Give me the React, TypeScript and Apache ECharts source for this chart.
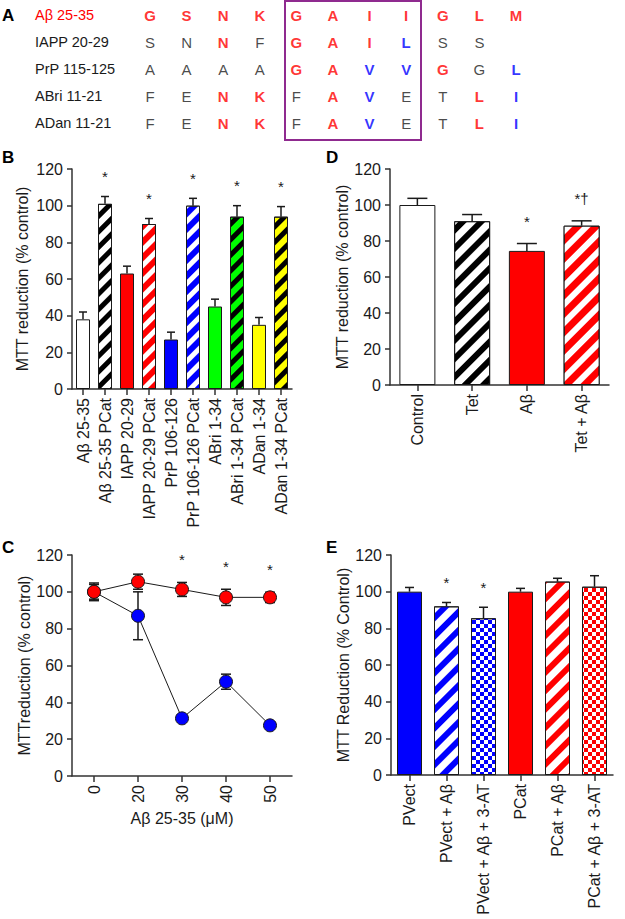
import React, { useEffect, useRef } from 'react';
import * as echarts from 'echarts';

const FONT = '"Liberation Sans", Arial, Helvetica, sans-serif';
const INK = '#1a1a1a';
const AXIS = '#333333';
const RED = '#ff0000';
const BLUE = '#0000ff';
const GREEN = '#00ff00';
const YELLOW = '#ffff00';
const WHITE = '#ffffff';
const BLACK = '#000000';
const PURPLE = '#8f2a8f';

// ---------- Panel A: sequence alignment ----------
const seqNames = ['Aβ 25-35', 'IAPP 20-29', 'PrP 115-125', 'ABri 11-21', 'ADan 11-21'];
const seqColumns = ['1', '2', '3', '4', '5', '6', '7', '8', '9', '10', '11'];
const seqRows = ['GSNKGAIIGLM', 'SNNFGAILSS', 'AAAAGAVVGGL', 'FENKFAVETLI', 'FENKFAVETLI'];
// r = red bold, b = blue bold, k = plain black
const seqCodes = ['rrrrrrrrrrr', 'kkrkrrrbkk', 'kkkkrrbbrkb', 'kkrrkrbkkrb', 'kkrrkrbkkrb'];

// ---------- Panel B ----------
const bCats = [
  'Aβ 25-35', 'Aβ 25-35 PCat', 'IAPP 20-29', 'IAPP 20-29 PCat', 'PrP 106-126',
  'PrP 106-126 PCat', 'ABri 1-34', 'ABri 1-34 PCat', 'ADan 1-34', 'ADan 1-34 PCat',
];
const bMeans = [38, 101, 63, 90, 27, 100, 45, 94, 35, 94];
const bErr = [4, 4, 4, 3, 4, 4, 4, 6, 4, 5.5];
const bSig = ['', '*', '', '*', '', '*', '', '*', '', '*'];
const bFill = [WHITE, WHITE, RED, RED, BLUE, BLUE, GREEN, GREEN, YELLOW, YELLOW];
const bHatch = ['', 'stripe', '', 'stripe', '', 'stripe', '', 'stripe', '', 'stripe'];
const bHatchColor = ['', BLACK, '', WHITE, '', WHITE, '', BLACK, '', BLACK];

// ---------- Panel D ----------
const dCats = ['Control', 'Tet', 'Aβ', 'Tet + Aβ'];
const dMeans = [100, 91, 74.5, 88.5];
const dErr = [3.7, 3.7, 4.1, 2.7];
const dSig = ['', '', '*', '*†'];
const dFill = [WHITE, WHITE, RED, RED];
const dHatch = ['', 'stripe', '', 'stripe'];
const dHatchColor = ['', BLACK, '', WHITE];

// ---------- Panel C ----------
const cDoses = ['0', '20', '30', '40', '50'];
const cRed = [100, 105.5, 101.3, 97, 97];
const cRedErr = [4.8, 4.1, 3.8, 4.4, 2.8];
const cBlue = [100, 87, 31.3, 51.2, 27.5];
const cBlueErr = [4, 13, 1.8, 4.1, 1.8];
const cSig = ['', '', '*', '*', '*'];

// ---------- Panel E ----------
const eCats = ['PVect', 'PVect + Aβ', 'PVect + Aβ + 3-AT', 'PCat', 'PCat + Aβ', 'PCat + Aβ + 3-AT'];
const eMeans = [100, 92, 85.5, 100, 105.5, 102.7];
const eErr = [2.3, 2.1, 6, 1.8, 1.8, 6];
const eSig = ['', '*', '*', '', '', ''];
const eFill = [BLUE, WHITE, WHITE, RED, WHITE, WHITE];
const eHatch = ['', 'stripe', 'checker', '', 'stripe', 'checker'];
const eHatchColor = ['', BLUE, BLUE, '', RED, RED];

const yTicks = { min: 0, max: 120, interval: 20 };

function makeDecal(kind: string, color: string, on: number, off: number, sq: number) {
  if (kind === 'stripe') {
    return {
      symbol: 'rect', symbolSize: 1, symbolKeepAspect: false, color,
      dashArrayX: [20, 0], dashArrayY: [on, off], rotation: -Math.PI / 4,
    };
  }
  if (kind === 'checker') {
    return {
      symbol: 'rect', symbolSize: 1, symbolKeepAspect: false, color,
      dashArrayX: [[sq, sq], [0, sq, sq, 0]], dashArrayY: [sq, 0], rotation: 0,
    };
  }
  return undefined;
}

function barSeries(idx: number, means: number[], fills: string[], hatch: string[], hatchColor: string[], barWidth: number, on: number, off: number, sq: number) {
  return {
    type: 'bar', xAxisIndex: idx, yAxisIndex: idx, barWidth, z: 2, silent: true,
    data: means.map((v, i) => {
      const decal = makeDecal(hatch[i], hatchColor[i], on, off, sq);
      const itemStyle: any = { color: fills[i], borderColor: INK, borderWidth: 1 };
      if (decal) itemStyle.decal = decal;
      return { value: v, itemStyle };
    }),
  };
}

function errSeries(idx: number, means: number[], errs: number[], sigs: string[], capHalf: number, both: boolean, sigOffset: number, z: number) {
  return {
    type: 'custom', xAxisIndex: idx, yAxisIndex: idx, z, silent: true,
    encode: { x: 0, y: 1 },
    data: means.map((m, i) => [i, m, errs[i]]),
    renderItem: (params: any, api: any) => {
      const i = api.value(0);
      const m = api.value(1);
      const e = api.value(2);
      const c = api.coord([i, m]);
      const t = api.coord([i, m + e]);
      const b = api.coord([i, both ? m - e : m]);
      const st = { stroke: INK, lineWidth: 1.5 };
      const children: any[] = [
        { type: 'line', shape: { x1: c[0], y1: b[1], x2: c[0], y2: t[1] }, style: st },
        { type: 'line', shape: { x1: c[0] - capHalf, y1: t[1], x2: c[0] + capHalf, y2: t[1] }, style: st },
      ];
      if (both) {
        children.push({ type: 'line', shape: { x1: c[0] - capHalf, y1: b[1], x2: c[0] + capHalf, y2: b[1] }, style: st });
      }
      const s = sigs[params.dataIndex];
      if (s) {
        children.push({
          type: 'text', x: c[0], y: t[1] - sigOffset,
          style: { text: s, fill: INK, fontSize: 15, fontFamily: FONT, align: 'center', verticalAlign: 'middle' },
        });
      }
      return { type: 'group', children };
    },
  };
}

function yAxis(idx: number, name: string, nameGap: number) {
  return {
    type: 'value', gridIndex: idx, ...yTicks,
    name, nameLocation: 'middle', nameGap,
    nameTextStyle: { fontFamily: FONT, fontSize: 16, color: INK },
    axisLine: { show: true, lineStyle: { color: AXIS, width: 1.5 } },
    axisTick: { show: true, length: 5, lineStyle: { color: AXIS, width: 1.5 } },
    axisLabel: { fontFamily: FONT, fontSize: 16, color: INK, margin: 9 },
    splitLine: { show: false },
  };
}

function xCatAxis(idx: number, data: string[], extra: any = {}) {
  return {
    type: 'category', gridIndex: idx, data,
    axisLine: { show: true, lineStyle: { color: AXIS, width: 1.5 } },
    axisTick: { show: true, alignWithLabel: true, length: 6, lineStyle: { color: AXIS, width: 1.5 } },
    axisLabel: { rotate: 90, interval: 0, fontFamily: FONT, fontSize: 16, color: INK, margin: 9 },
    ...extra,
  };
}

function buildOption() {
  const seqData: any[] = [];
  seqRows.forEach((row, r) => {
    row.split('').forEach((ch, c) => {
      const code = seqCodes[r][c];
      seqData.push({
        value: [c, r],
        label: {
          formatter: ch,
          color: code === 'r' ? RED : code === 'b' ? BLUE : INK,
          fontWeight: code === 'k' ? 'normal' : 'bold',
        },
      });
    });
  });

  const letter = (t: string, x: number, y: number) => ({
    type: 'text', left: x, top: y,
    style: { text: t, fontFamily: FONT, fontSize: 17, fontWeight: 'bold', fill: BLACK },
  });

  return {
    animation: false,
    backgroundColor: '#ffffff',
    grid: [
      { left: 131.7, top: 1.5, width: 402.6, height: 135 },
      { left: 72, top: 169, width: 220, height: 220 },
      { left: 390, top: 169, width: 219, height: 216 },
      { left: 72, top: 555, width: 220, height: 221 },
      { left: 391, top: 555, width: 222, height: 220 },
    ],
    xAxis: [
      { type: 'category', gridIndex: 0, data: seqColumns, show: false },
      xCatAxis(1, bCats),
      xCatAxis(2, dCats),
      xCatAxis(3, cDoses, {
        name: 'Aβ 25-35 (μM)', nameLocation: 'middle', nameGap: 34,
        nameTextStyle: { fontFamily: FONT, fontSize: 16, color: INK },
      }),
      xCatAxis(4, eCats),
    ],
    yAxis: [
      {
        type: 'category', gridIndex: 0, data: seqNames, inverse: true,
        axisLine: { show: false }, axisTick: { show: false }, splitLine: { show: false },
        axisLabel: {
          align: 'left', margin: 96.7, fontFamily: FONT, fontSize: 14.5,
          color: (_v: any, i: number) => (i === 0 ? RED : INK),
        },
      },
      yAxis(1, 'MTT reduction (% control)', 42),
      yAxis(2, 'MTT reduction (% control)', 36),
      yAxis(3, 'MTTreduction (% control)', 40),
      yAxis(4, 'MTT Reduction (% Control)', 38),
    ],
    series: [
      {
        type: 'scatter', xAxisIndex: 0, yAxisIndex: 0, symbolSize: 1, silent: true,
        itemStyle: { color: 'rgba(0,0,0,0)' },
        label: { show: true, position: 'inside', fontFamily: FONT, fontSize: 15 },
        data: seqData,
      },
      barSeries(1, bMeans, bFill, bHatch, bHatchColor, 14, 5, 6, 4),
      errSeries(1, bMeans, bErr, bSig, 4, false, 20, 3),
      barSeries(2, dMeans, dFill, dHatch, dHatchColor, 36, 6, 7, 4),
      errSeries(2, dMeans, dErr, dSig, 10, false, 22, 3),
      errSeries(3, cBlue, cBlueErr, [], 5, true, 0, 2),
      {
        type: 'line', xAxisIndex: 3, yAxisIndex: 3, data: cBlue, z: 3, silent: true,
        symbol: 'circle', symbolSize: 13,
        itemStyle: { color: BLUE, borderColor: INK, borderWidth: 1 },
        lineStyle: { color: INK, width: 1 },
      },
      errSeries(3, cRed, cRedErr, cSig, 5, true, 23, 4),
      {
        type: 'line', xAxisIndex: 3, yAxisIndex: 3, data: cRed, z: 5, silent: true,
        symbol: 'circle', symbolSize: 13,
        itemStyle: { color: RED, borderColor: INK, borderWidth: 1 },
        lineStyle: { color: INK, width: 1 },
      },
      barSeries(4, eMeans, eFill, eHatch, eHatchColor, 25, 6, 7, 4),
      errSeries(4, eMeans, eErr, eSig, 4.5, false, 20, 3),
    ],
    graphic: [
      letter('A', 2, 7),
      letter('B', 2, 149),
      letter('D', 326, 149),
      letter('C', 2, 539),
      letter('E', 326, 539),
      {
        type: 'rect', shape: { x: 285, y: 1, width: 136, height: 139 },
        style: { fill: 'none', stroke: PURPLE, lineWidth: 2 },
      },
    ],
  };
}

export default function App() {
  const ref = useRef<HTMLDivElement>(null);
  useEffect(() => {
    if (!ref.current) return;
    const chart = echarts.init(ref.current, undefined, { renderer: 'svg' });
    chart.setOption(buildOption() as any);
    return () => chart.dispose();
  }, []);
  return (
    <div
      ref={ref}
      style={{ position: 'fixed', left: 0, top: 0, width: 625, height: 919, background: '#fff' }}
    />
  );
}
